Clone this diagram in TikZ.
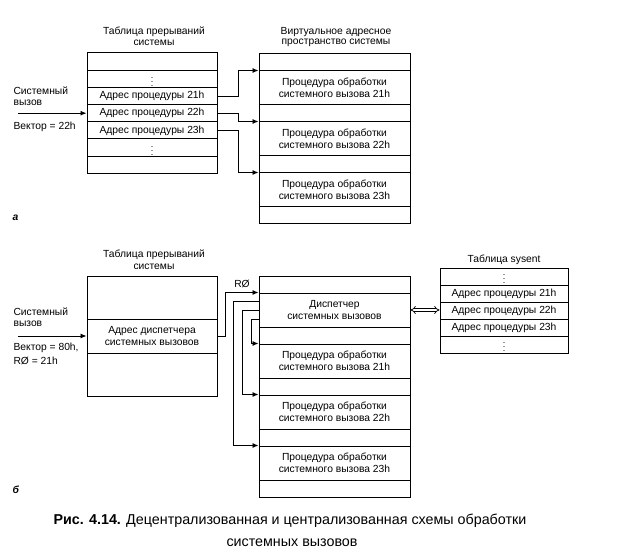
\documentclass[tikz,border=0pt]{standalone}
\usepackage{fontspec}
\setmainfont{Liberation Sans}
\usetikzlibrary{arrows.meta}

\begin{document}
\begin{tikzpicture}[x=1pt,y=-1pt,
every node/.style={align=center, font=\fontsize{10.3}{12}\selectfont},
cell/.style={draw, line width=1pt, inner sep=0pt, minimum height=17pt},
tabl/.style={cell, minimum width=130pt},
virt/.style={cell, minimum width=151pt},
sys/.style={cell, minimum width=128pt},
tall/.style={minimum height=34pt},
dots/.style={font=\fontsize{9}{9}\selectfont},
lbl/.style={anchor=west, align=left},
arr/.style={-{Latex[length=6pt,width=5pt]}, line width=0.9pt}]
\useasboundingbox (0,0) rectangle (623,553);
%================================================================
%	(a) Interrupt table
\node at (154,32) {Таблица прерываний};
\node at (154,43) {системы};
\node[style=tabl, minimum height=17.2pt] (ta1) at (152,61.6) {};
\node[style=tabl, minimum height=17.2pt, style=dots] (ta2) at (152,78.8) {$\vdots$};
\node[style=tabl, minimum height=17.2pt] (ta21) at (152,96) {Адрес процедуры 21h};
\node[style=tabl, minimum height=17.2pt] (ta22) at (152,113.2) {Адрес процедуры 22h};
\node[style=tabl, minimum height=17.2pt] (ta23) at (152,130.4) {Адрес процедуры 23h};
\node[style=tabl, minimum height=17.2pt, style=dots] (ta6) at (152,147.6) {$\vdots$};
\node[style=tabl, minimum height=17.2pt] (ta7) at (152,164.8) {};
%----------------------------------------------------------------
%	(a) Virtual address space
\node at (336,32) {Виртуальное адресное};
\node at (336,43) {пространство системы};
\node[style=virt] (va1) at (334.5,62.5) {};
\node[style=virt, style=tall] (vp21) at (334.5,88) {Процедура обработки\\системного вызова 21h};
\node[style=virt] (va3) at (334.5,113.5) {};
\node[style=virt, style=tall] (vp22) at (334.5,139) {Процедура обработки\\системного вызова 22h};
\node[style=virt] (va5) at (334.5,164.5) {};
\node[style=virt, style=tall] (vp23) at (334.5,190) {Процедура обработки\\системного вызова 23h};
\node[style=virt] (va7) at (334.5,215.5) {};

%================================================================
%	(a) Lines
\coordinate (callA) at (18,113.2);
\draw[arr] (callA) -- (ta22.west);
\draw[arr] (ta21.east) -- ++(21,0) |- (vp21.north west);
\draw[arr] (ta22.east) -- ++(21,0) |- (vp22.north west);
\draw[arr] (ta23.east) -- ++(21,0) |- (vp23.north west);
%----------------------------------------------------------------
\node[style=lbl] at (10,91) {Системный};
\node[style=lbl] at (10,103) {вызов};
\node[style=lbl] at (10,127) {Вектор = 22h};
\node[style=lbl] at (9,218) {\textbf{\textit{а}}};

%================================================================
%	(b) Interrupt table
\node at (154,255) {Таблица прерываний};
\node at (154,267) {системы};
\node[style=tabl, minimum height=43pt] (tb1) at (152,297.5) {};
\node[style=tabl, style=tall] (tbd) at (152,336) {Адрес диспетчера\\системных вызовов};
\node[style=tabl, minimum height=43pt] (tb3) at (152,374.5) {};
%----------------------------------------------------------------
%	(b) Virtual address space
\node[style=virt] (vb1) at (334.5,284.5) {};
\node[style=virt, style=tall] (disp) at (334.5,310) {Диспетчер\\системных вызовов};
\node[style=virt] (vb3) at (334.5,335.5) {};
\node[style=virt, style=tall] (wp21) at (334.5,361) {Процедура обработки\\системного вызова 21h};
\node[style=virt] (vb5) at (334.5,386.5) {};
\node[style=virt, style=tall] (wp22) at (334.5,412) {Процедура обработки\\системного вызова 22h};
\node[style=virt] (vb7) at (334.5,437.5) {};
\node[style=virt, style=tall] (wp23) at (334.5,463) {Процедура обработки\\системного вызова 23h};
\node[style=virt] (vb9) at (334.5,488.5) {};
%----------------------------------------------------------------
%	(b) sysent table
\node at (504,260) {Таблица sysent};
\node[style=sys, style=dots] (s1) at (504,276.5) {$\vdots$};
\node[style=sys] (s21) at (504,293.5) {Адрес процедуры 21h};
\node[style=sys] (s22) at (504,310.5) {Адрес процедуры 22h};
\node[style=sys] (s23) at (504,327.5) {Адрес процедуры 23h};
\node[style=sys, style=dots] (s5) at (504,344.5) {$\vdots$};

%================================================================
%	(b) Lines
\coordinate (callB) at (18,336);
\draw[arr] (callB) -- (tbd.west);
\draw[arr] (tbd.east) -- ++(8,0) |- (disp.north west)
  node[pos=0.75, above=1pt] {RØ};
\draw[arr] ([yshift=9pt]disp.west) -- ++(-25,0) |- (wp23.north west);
\draw[arr] (disp.west) -- ++(-16,0) |- (wp22.north west);
\draw[arr] ([yshift=-9pt]disp.west) -- ++(-7,0) |- (wp21.north west);
\draw[{Implies}-{Implies}, double, double distance=2pt, line width=0.7pt]
  (disp.east) -- (disp.east -| s22.west);
%----------------------------------------------------------------
\node[style=lbl] at (10,312) {Системный};
\node[style=lbl] at (10,324) {вызов};
\node[style=lbl] at (10,348) {Вектор = 80h,};
\node[style=lbl] at (10,361) {RØ = 21h};
\node[style=lbl] at (9,490) {\textbf{\textit{б}}};

%================================================================
%	Caption
\node (cap1) at (290,521) {\fontsize{14.3}{16}\selectfont\textbf{Рис. 4.14.} Децентрализованная и централизованная схемы обработки};
\node (cap2) at (292,543) {\fontsize{14.3}{16}\selectfont системных вызовов};
%================================================================
\end{tikzpicture}
\end{document}
